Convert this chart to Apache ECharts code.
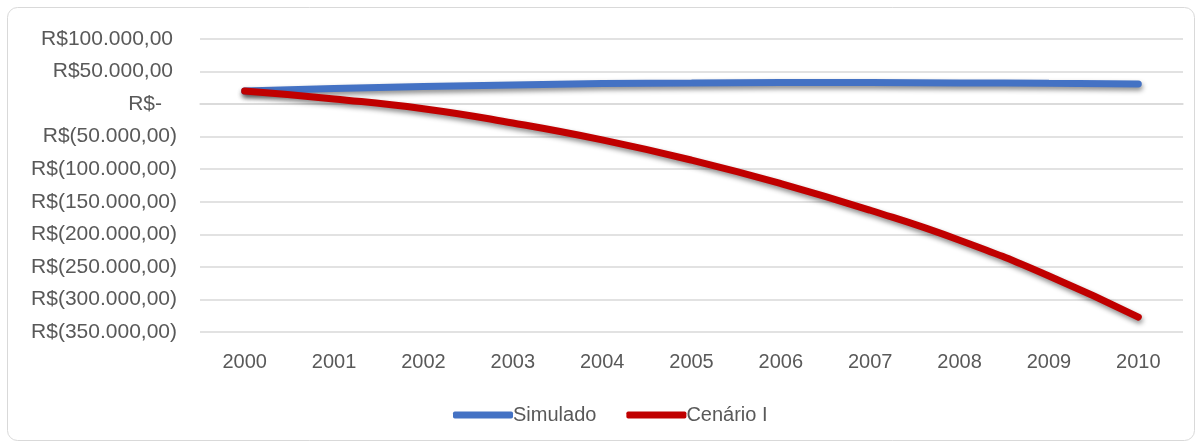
<!DOCTYPE html>
<html>
<head>
<meta charset="utf-8">
<script src="https://cdn.jsdelivr.net/npm/echarts@6/dist/echarts.min.js"></script>
<style>
html,body{margin:0;padding:0;background:#fff;}
#chart{width:1202px;height:448px;}
</style>
</head>
<body>
<div id="chart"></div>
<script>
const categories = ['2000','2001','2002','2003','2004','2005','2006','2007','2008','2009','2010'];
const simulado = [20000, 24000, 27000, 29500, 31500, 32500, 33000, 33000, 32500, 32000, 31000];
const cenarioI = [20000, 8000, -7000, -29000, -55000, -86000, -122000, -163000, -209000, -264000, -327000];
const seriesNames = ['Simulado', 'Cenário I'];
const yMin = -350000, yMax = 100000, yStep = 50000;

function fmtNum(n) {
  const s = Math.abs(n).toFixed(0).replace(/\B(?=(\d{3})+(?!\d))/g, '.');
  return s + ',00';
}
function yLabel(v) {
  if (v === 0) return '{z|R$-}';
  if (v > 0) return '{p|R$' + fmtNum(v) + '}';
  return '{n|R$(' + fmtNum(v) + ')}';
}

const txt = '#595959';
const font = 'Liberation Sans';
const chart = echarts.init(document.getElementById('chart'));
chart.setOption({
  backgroundColor: '#fff',
  animation: false,
  graphic: [{
    type: 'rect',
    shape: { x: 7.5, y: 7.5, width: 1187, height: 433, r: 10 },
    style: { fill: 'none', stroke: '#D9D9D9', lineWidth: 1 },
    z: -10
  }],
  grid: { left: 200, right: 19, top: 39, bottom: 116, containLabel: false },
  legend: {
    left: 448, top: 400,
    itemWidth: 60, itemHeight: 7, itemGap: 30,
    icon: 'roundRect',
    textStyle: { color: txt, fontSize: 20, fontFamily: font, padding: [0, 0, 0, -5] },
    data: seriesNames
  },
  xAxis: {
    type: 'category',
    data: categories,
    boundaryGap: true,
    axisLine: { show: true, lineStyle: { color: '#D9D9D9', width: 1.5 } },
    axisTick: { show: false },
    axisLabel: { color: txt, fontSize: 20, fontFamily: font, margin: 20 }
  },
  yAxis: {
    type: 'value',
    min: yMin, max: yMax, interval: yStep,
    axisLine: { show: false },
    axisTick: { show: false },
    splitLine: { lineStyle: { color: '#D9D9D9', width: 1.5 } },
    axisLabel: {
      margin: 23,
      formatter: yLabel,
      rich: {
        p: { color: txt, fontSize: 21, fontFamily: font, padding: [0, 4, 0, 0] },
        n: { color: txt, fontSize: 21, fontFamily: font },
        z: { color: txt, fontSize: 21, fontFamily: font, padding: [0, 15, 0, 0] }
      }
    }
  },
  series: [
    {
      name: seriesNames[0], type: 'line', data: simulado, smooth: true,
      symbol: 'none', color: '#4472C4',
      lineStyle: { width: 7, cap: 'round', color: '#4472C4',
        shadowColor: 'rgba(0,0,0,0.45)', shadowBlur: 5, shadowOffsetX: 1, shadowOffsetY: 3 }
    },
    {
      name: seriesNames[1], type: 'line', data: cenarioI, smooth: true,
      symbol: 'none', color: '#C00000',
      lineStyle: { width: 7, cap: 'round', color: '#C00000',
        shadowColor: 'rgba(0,0,0,0.45)', shadowBlur: 5, shadowOffsetX: 1, shadowOffsetY: 3 }
    }
  ]
});
</script>
</body>
</html>
